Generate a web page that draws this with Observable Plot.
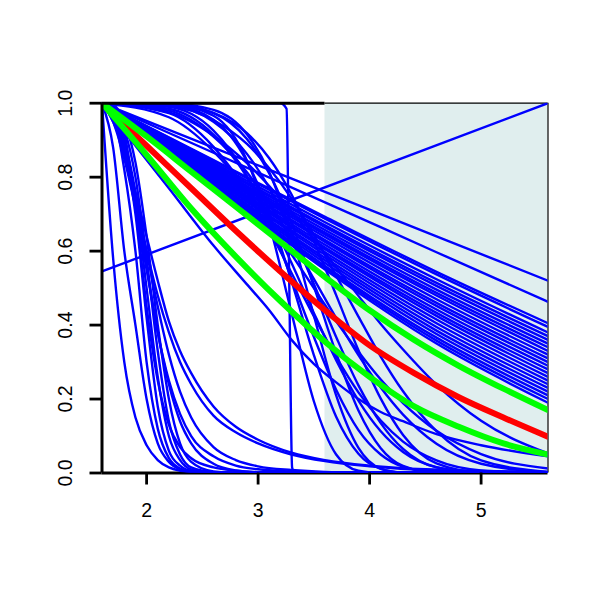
<!DOCTYPE html>
<html>
<head>
<meta charset="utf-8">
<script src="https://cdn.jsdelivr.net/npm/d3@7"></script>
<script src="https://cdn.jsdelivr.net/npm/@observablehq/plot@0.6"></script>
<style>
  html, body { margin: 0; padding: 0; background: #ffffff; }
  #chart svg { display: block; }
</style>
</head>
<body>
<div id="chart"></div>
<script>
// ---- axes / layout values ----
const xDomain = [1.6, 5.6];
const yDomain = [0, 1];
const xTicks = [2, 3, 4, 5];
const yTicks = [0, 0.2, 0.4, 0.6, 0.8, 1.0];
const shadeX = [3.6, 5.6];

// ---- slow, nearly linear survival curves (values at slowX) ----
const slowX = [1.6, 2.6, 3.6, 4.6, 5.6];
const slowY = [
  [1, .880, .760, .640, .520],
  [1, .866, .732, .597, .463],
  [1, .846, .693, .544, .405],
  [1, .844, .688, .537, .395],
  [1, .839, .678, .524, .380],
  [1, .835, .670, .514, .370],
  [1, .832, .665, .506, .360],
  [1, .828, .657, .496, .350],
  [1, .825, .650, .487, .340],
  [1, .822, .645, .480, .330],
  [1, .819, .638, .470, .320],
  [1, .815, .630, .460, .310],
  [1, .812, .625, .452, .300],
  [1, .808, .617, .442, .290],
  [1, .805, .610, .433, .280],
  [1, .802, .605, .425, .270],
  [1, .798, .597, .415, .260],
  [1, .795, .590, .405, .250],
  [1, .790, .582, .395, .240],
  [1, .787, .575, .385, .230],
  [1, .784, .568, .376, .220],
  [1, .780, .560, .366, .210],
  [1, .778, .555, .358, .200],
  [1, .775, .550, .350, .190]
];

// ---- early-drop curves (values at earlyX) ----
const earlyX = [1.6, 1.7, 1.8, 1.9, 2.0, 2.1, 2.2, 2.3, 2.4, 2.6, 2.8, 3.0, 3.3, 3.6, 4.0, 4.5, 5.6];
const earlyY = [
  [1, .58, .30, .15, .075, .035, .015, .006, .002, 0, 0, 0, 0, 0, 0, 0, 0],
  [1, .88, .60, .40, .20, .08, .03, .01, .003, 0, 0, 0, 0, 0, 0, 0, 0],
  [1, .97, .82, .60, .30, .12, .04, .012, .003, 0, 0, 0, 0, 0, 0, 0, 0],
  [1, .98, .88, .70, .42, .18, .06, .02, .006, .001, 0, 0, 0, 0, 0, 0, 0],
  [1, .985, .90, .74, .50, .26, .10, .035, .01, .002, 0, 0, 0, 0, 0, 0, 0],
  [1, .99, .93, .80, .58, .33, .14, .05, .015, .002, 0, 0, 0, 0, 0, 0, 0],
  [1, .995, .95, .84, .64, .40, .20, .08, .03, .004, 0, 0, 0, 0, 0, 0, 0],
  [1, .98, .90, .76, .56, .38, .24, .14, .08, .025, .007, .002, 0, 0, 0, 0, 0],
  [1, .95, .85, .72, .60, .48, .38, .30, .24, .155, .11, .08, .05, .032, .018, .008, .002],
  [1, .97, .88, .75, .60, .45, .32, .22, .15, .07, .035, .018, .008, .003, .001, 0, 0],
  [1, .96, .86, .72, .55, .38, .25, .16, .10, .045, .02, .01, .004, .001, 0, 0, 0],
  [1, .99, .92, .72, .45, .25, .13, .07, .04, .015, .006, .002, 0, 0, 0, 0, 0],
  [1, .95, .87, .76, .64, .52, .41, .33, .27, .18, .125, .09, .055, .035, .02, .01, .003]
];

// ---- late-drop curves (values at lateX) ----
const lateX = [1.6, 2.2, 2.6, 2.9, 3.1, 3.3, 3.5, 3.7, 3.9, 4.1, 4.3, 4.6, 5.0, 5.6];
const lateY = [
  [1, .998, .966, .845, .673, .433, .194, .050, .006, 0, 0, 0, 0, 0],
  [1, .996, .955, .842, .704, .519, .319, .152, .052, .011, .001, 0, 0, 0],
  [1, .990, .926, .803, .679, .526, .368, .225, .116, .050, .017, .002, 0, 0],
  [1, .999, .982, .916, .813, .645, .426, .210, .068, .012, .001, 0, 0, 0],
  [1, .985, .915, .801, .694, .568, .433, .305, .196, .113, .057, .016, .002, 0],
  [1, .998, .973, .903, .810, .676, .505, .324, .169, .067, .019, .001, 0, 0],
  [1, .993, .950, .863, .771, .650, .511, .368, .237, .135, .065, .015, .001, 0],
  [1, .973, .882, .760, .656, .541, .424, .314, .218, .142, .085, .034, .007, 0],
  [1, .980, .910, .813, .728, .630, .525, .419, .319, .231, .158, .079, .025, .002],
  [1, .997, .974, .919, .851, .753, .627, .481, .332, .201, .103, .026, .002, 0],
  [1, .962, .870, .765, .681, .591, .500, .410, .328, .253, .189, .114, .051, .012],
  [1, .992, .954, .890, .824, .742, .643, .534, .423, .315, .221, .113, .034, .003],
  [1, .975, .912, .838, .776, .707, .633, .556, .479, .403, .334, .239, .141, .053],
  [1, .770, .615, .510, .440, .360, .295, .245, .200, .165, .140, .105, .075, .045]
];

// ---- near-vertical step curve ----
const stepX = [1.6, 3.2, 3.255, 3.28, 3.305, 3.33, 5.6];
const stepY = [1, 1, .985, .5, .015, 0, 0];

// ---- rising straight line ----
const riseX = [1.6, 5.6];
const riseY = [0.545, 1.0];

// ---- highlighted curves ----
const hiX = [1.6, 2.0, 2.4, 2.8, 3.2, 3.6, 4.0, 4.4, 4.8, 5.2, 5.6];
const redY = [1, .885, .770, .655, .545, .440, .345, .270, .205, .150, .098];
const greenUpperY = [1, .910, .815, .720, .625, .530, .440, .360, .290, .228, .170];
const greenLowerY = [1, .860, .715, .585, .465, .355, .260, .180, .125, .080, .050];

// ---- build tables ----
function rowsFrom(prefix, xs, ysList) {
  const out = [];
  ysList.forEach((ys, i) => ys.forEach((y, j) => out.push({id: prefix + i, x: xs[j], y})));
  return out;
}
const blueRows = [
  ...rowsFrom("s", slowX, slowY),
  ...rowsFrom("e", earlyX, earlyY),
  ...rowsFrom("l", lateX, lateY),
  ...rowsFrom("st", stepX, [stepY]),
  ...rowsFrom("r", riseX, [riseY])
];
const redRows = rowsFrom("red", hiX, [redY]);
const greenRows = rowsFrom("g", hiX, [greenUpperY, greenLowerY]);

const fontFamily = "'Liberation Sans', Arial, Helvetica, sans-serif";

const chart = Plot.plot({
  width: 600,
  height: 600,
  marginLeft: 101.5,
  marginRight: 52.5,
  marginTop: 102.7,
  marginBottom: 127.5,
  style: {background: "#ffffff", fontFamily},
  x: {domain: xDomain, axis: null, label: null},
  y: {domain: yDomain, axis: null, label: null},
  marks: [
    Plot.rect([shadeX], {
      x1: d => d[0], x2: d => d[1],
      y1: () => yDomain[0], y2: () => yDomain[1],
      fill: "#e0eeee"
    }),
    Plot.ruleY([yDomain[1]], {
      x1: () => shadeX[0], x2: () => shadeX[1],
      stroke: "#000000", strokeWidth: 1.2
    }),
    Plot.ruleX([shadeX[1]], {stroke: "#000000", strokeWidth: 1.2}),
    Plot.ruleY([yDomain[0]], {stroke: "#000000", strokeWidth: 2.8}),
    Plot.line(blueRows, {
      x: "x", y: "y", z: "id",
      stroke: "#0000ff", strokeWidth: 2.4, curve: "monotone-x", clip: true
    }),
    Plot.line(redRows, {
      x: "x", y: "y", z: "id",
      stroke: "#ff0000", strokeWidth: 6, curve: "monotone-x", clip: true
    }),
    Plot.line(greenRows, {
      x: "x", y: "y", z: "id",
      stroke: "#00ff00", strokeWidth: 6, curve: "monotone-x", clip: true
    }),
    Plot.ruleX([xDomain[0]], {stroke: "#000000", strokeWidth: 3}),
    Plot.ruleY([yDomain[1]], {
      x1: () => xDomain[0], x2: () => shadeX[0],
      stroke: "#000000", strokeWidth: 3
    }),
    Plot.axisY({ticks: yTicks, anchor: "left", tickSize: 12, strokeWidth: 2.8,
      stroke: "#000000", tickFormat: () => "", label: null}),
    Plot.axisX({ticks: xTicks, anchor: "bottom", tickSize: 12, strokeWidth: 2.8,
      stroke: "#000000", tickFormat: () => "", label: null}),
    Plot.text(yTicks, {
      x: () => xDomain[0], y: d => d, text: d => d.toFixed(1),
      rotate: -90, dx: -36, fontSize: 19.5, fill: "#000000",
      textAnchor: "middle", lineAnchor: "middle"
    }),
    Plot.text(xTicks, {
      x: d => d, y: () => yDomain[0], text: d => String(d),
      dy: 38, fontSize: 19.5, fill: "#000000",
      textAnchor: "middle", lineAnchor: "middle"
    })
  ]
});
document.getElementById("chart").appendChild(chart);
</script>
</body>
</html>
